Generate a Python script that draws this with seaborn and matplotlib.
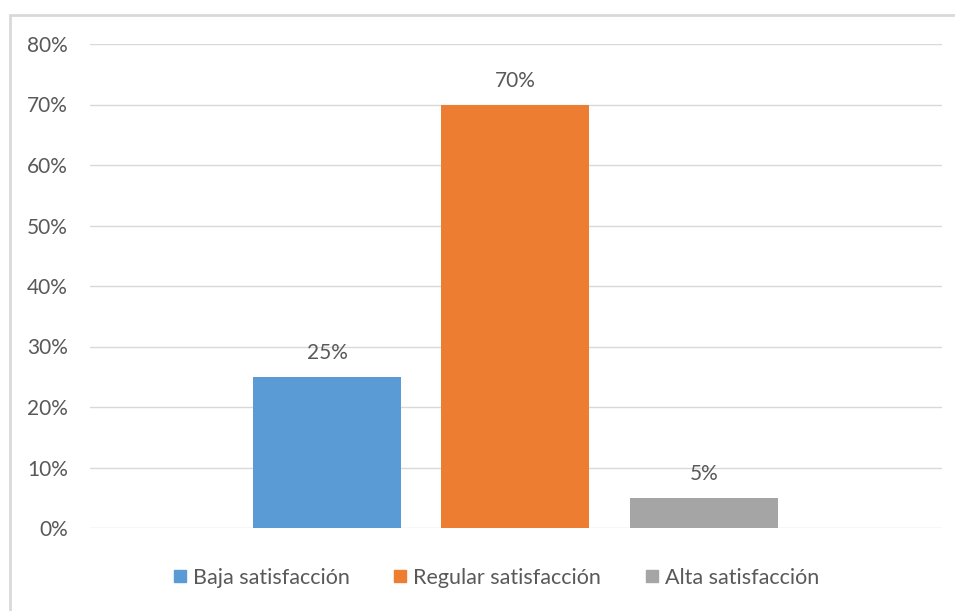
import pandas as pd
import matplotlib.pyplot as plt
import seaborn as sns
from matplotlib.lines import Line2D
from matplotlib.patches import Rectangle
from matplotlib.ticker import PercentFormatter

categorias = ["Baja satisfacción", "Regular satisfacción", "Alta satisfacción"]
valores = [0.25, 0.70, 0.05]
etiquetas = ["25%", "70%", "5%"]
colores = ["#5B9BD5", "#ED7D31", "#A5A5A5"]

df = pd.DataFrame({"categoria": categorias, "valor": valores})

sns.set_style("white")
plt.rcParams["font.family"] = ["Lato", "DejaVu Sans"]
texto = "#595959"

fig = plt.figure(figsize=(9.55, 6.11), dpi=100)
ax = fig.add_axes([90 / 955, 83 / 611, 852 / 955, 484 / 611])

sns.barplot(data=df, x="categoria", y="valor", hue="categoria",
            palette=colores, width=0.785, saturation=1, legend=False,
            linewidth=0, ax=ax)

ax.set_xlim(-1.257, 3.263)
ax.set_ylim(0, 0.8)
ax.set_yticks([i / 10 for i in range(9)])
ax.yaxis.set_major_formatter(PercentFormatter(1.0, decimals=0))
ax.grid(axis="y", color="#D9D9D9", linewidth=1)
ax.set_axisbelow(True)
ax.set_xticks([])
ax.set_xlabel("")
ax.set_ylabel("")
ax.tick_params(axis="y", length=0, pad=16, labelsize=15, labelcolor=texto)
for s in ax.spines.values():
    s.set_visible(False)

for i, (v, t) in enumerate(zip(valores, etiquetas)):
    ax.annotate(t, (i, v), xytext=(0, 17), textcoords="offset points",
                ha="center", va="center", fontsize=15, color=texto)

handles = [Line2D([], [], marker="s", linestyle="", markersize=9,
                  markerfacecolor=c, markeredgecolor=c) for c in colores]
fig.legend(handles, categorias, loc="center", bbox_to_anchor=(0.518, 1 - 578 / 611),
           ncol=3, frameon=False, fontsize=15.5, labelcolor=texto,
           handletextpad=0.15, columnspacing=1.9, handlelength=0.9)

# marco del gráfico (solo izquierda y arriba visibles)
fig.add_artist(Rectangle((9.5 / 955, -0.1), 1.2, 1.1 - 14.5 / 611,
                         transform=fig.transFigure, fill=False,
                         edgecolor="#D9D9D9", linewidth=2))

fig.savefig("out.png", dpi=100)
